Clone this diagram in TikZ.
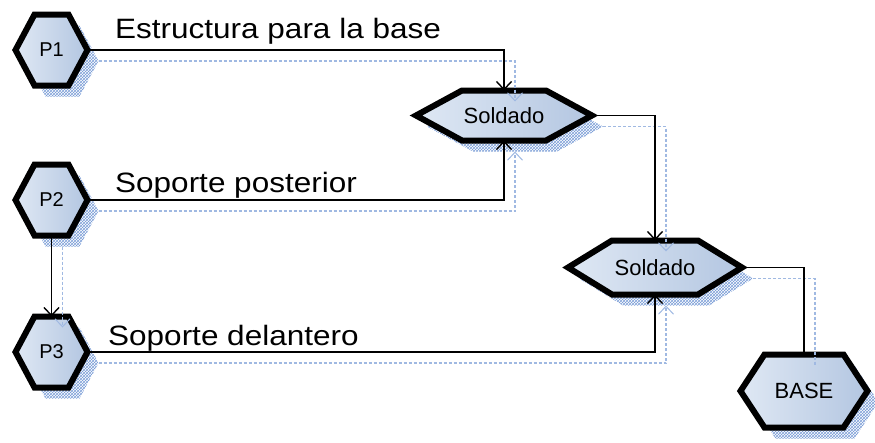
\documentclass[tikz,border=0pt]{standalone}
\usepackage{fontspec}
\setmainfont{Liberation Sans}
\usetikzlibrary{arrows.meta,patterns,calc}
\definecolor{hexlight}{HTML}{DFE8F4}
\definecolor{hexdark}{HTML}{B3C6E1}
\definecolor{shadowblue}{HTML}{7B9DD6}
\definecolor{shadowline}{HTML}{A0B9E2}
\newcommand{\hexpath}[5]{(#1-#3,#2) -- (#1-#3+#5,#2-#4) -- (#1+#3-#5,#2-#4) -- (#1+#3,#2) -- (#1+#3-#5,#2+#4) -- (#1-#3+#5,#2+#4) -- cycle}
\newcommand{\hexnode}[7]{%
  \fill[pattern=crosshatch, pattern color=shadowblue, shift={(11,11)}] \hexpath{#2}{#3}{#4}{#5}{#6};
  \shade[left color=hexlight, right color=hexdark] \hexpath{#2}{#3}{#4}{#5}{#6};
  \draw[line width=6pt, line join=miter] \hexpath{#2}{#3}{#4}{#5}{#6};
  \node[hexlabel, minimum width={2*#4}, minimum height={2*#5}] (#1) at (#2,#3) {#7};
}
\tikzset{
  hexlabel/.style={inner sep=0pt, outer sep=0pt, font=\fontsize{22}{24}\selectfont},
  conn/.style={line width=1.8pt, black},
  arr/.style={-{Straight Barb[length=8pt,width=15pt,line width=1.4pt]}},
  shadowconn/.style={line width=1.2pt, shadowline, densely dashed,
    transform canvas={shift={(11pt,-11pt)}}},
  shadowarr/.style={-{Straight Barb[length=8pt,width=15pt,line width=1pt]}},
  lbl/.style={inner sep=0pt, anchor=base west, font=\fontsize{28}{30}\selectfont}
}
\begin{document}
\begin{tikzpicture}[x=1pt,y=-1pt]
\useasboundingbox (0,0) rectangle (875,442);
% hexagons
\hexnode{P1}{51.5}{50}{36}{35.5}{19}{\fontsize{20}{22}\selectfont P1}
\hexnode{P2}{51.5}{200}{36}{35.5}{19}{\fontsize{20}{22}\selectfont P2}
\hexnode{P3}{51.5}{352}{36}{35.5}{19}{\fontsize{20}{22}\selectfont P3}
\hexnode{S1}{504}{115.5}{88}{25}{46}{Soldado}
\hexnode{S2}{655}{267.5}{87}{27}{44}{Soldado}
\hexnode{B}{804}{391}{63.5}{36.5}{24}{BASE}
% connector shadows
\draw[shadowconn, shadowarr] (P1.east) -| (S1.north);
\draw[shadowconn, shadowarr] (P2.east) -| (S1.south);
\draw[shadowconn, shadowarr] (S1.east) -| (S2.north);
\draw[shadowconn, shadowarr] (P2.south) -- (P3.north);
\draw[shadowconn, shadowarr] (P3.east) -| (S2.south);
\draw[shadowconn] (S2.east) -| (B.north);
% connectors
\draw[conn, arr] (P1.east) -| (S1.north);
\draw[conn, arr] (P2.east) -| (S1.south);
\draw[conn, arr] (S1.east) -| (S2.north);
\draw[conn, arr] (P2.south) -- (P3.north);
\draw[conn, arr] (P3.east) -| (S2.south);
\draw[conn] (S2.east) -| (B.north);
% labels
\node[lbl] (l1) at (115,38) {\scalebox{1.125}[1]{Estructura para la base}};
\node[lbl] (l2) at (115,192) {\scalebox{1.125}[1]{Soporte posterior}};
\node[lbl] (l3) at (108,345) {\scalebox{1.125}[1]{Soporte delantero}};
\end{tikzpicture}
\end{document}
